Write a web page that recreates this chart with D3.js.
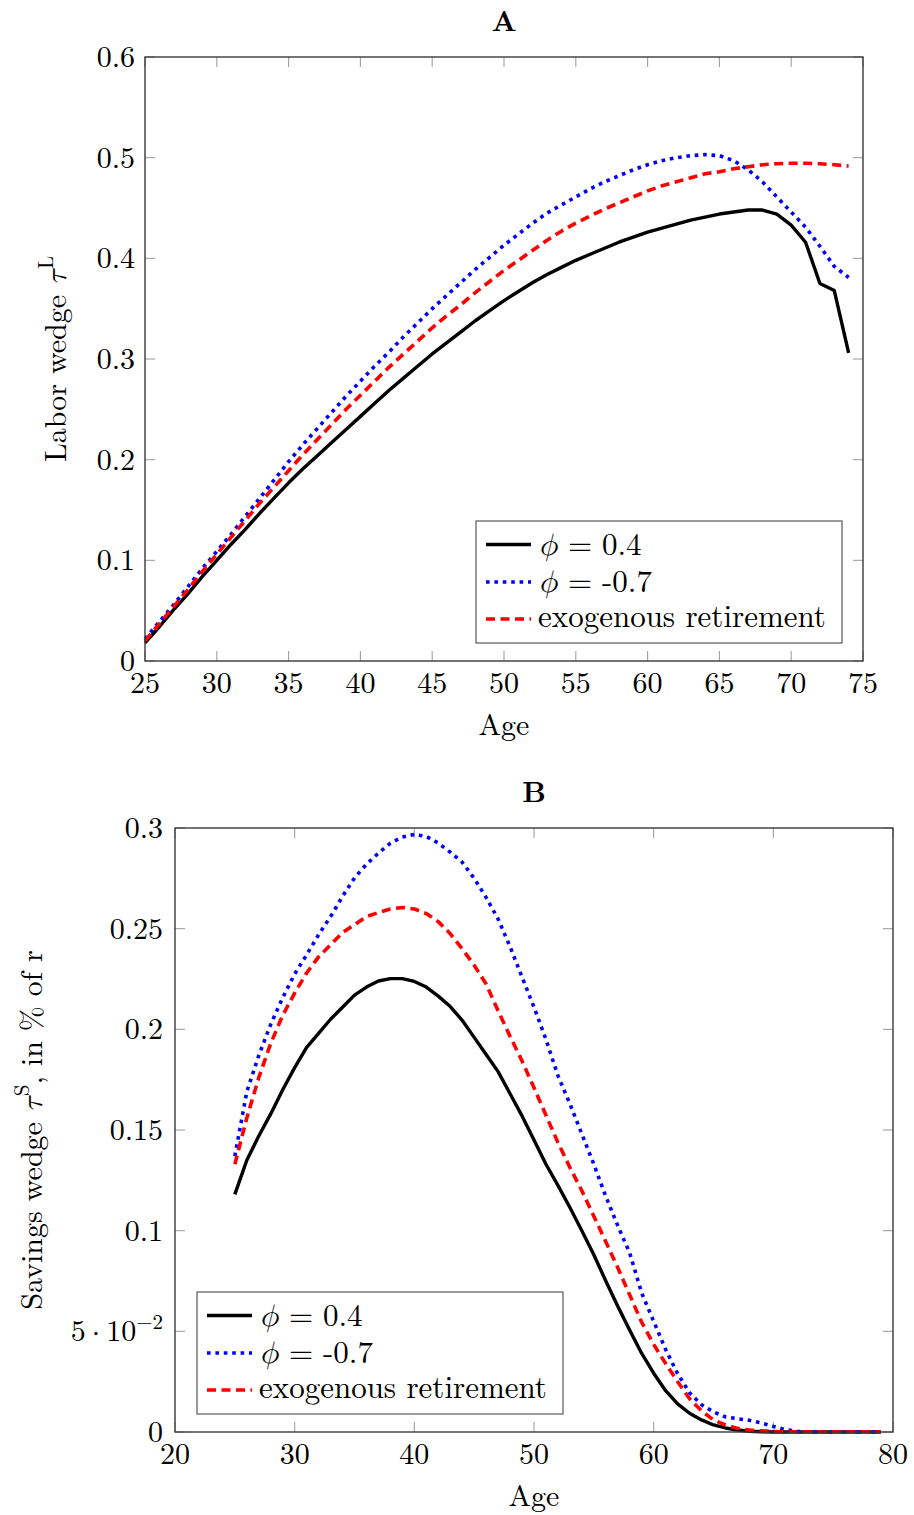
<!DOCTYPE html>
<html>
<head>
<meta charset="utf-8">
<script src="https://cdn.jsdelivr.net/npm/d3@7"></script>
<style>
  html, body { margin: 0; padding: 0; background: #fff; }
  svg { display: block; }
</style>
</head>
<body>
<svg id="chart" width="914" height="1515"></svg>
<script>
// ---------------- DATA: Panel A (labor wedge) ----------------
const agesA = [25,26,27,28,29,30,31,32,33,34,35,36,37,38,39,40,41,42,43,44,45,46,47,48,49,
               50,51,52,53,54,55,56,57,58,59,60,61,62,63,64,65,66,67,68,69,70,71,72,73,74];
const laborPhi04 = [0.018,0.034,0.051,0.067,0.084,0.100,0.116,0.131,0.147,0.162,0.177,0.191,0.204,0.217,0.230,
                    0.243,0.256,0.269,0.281,0.293,0.305,0.316,0.327,0.338,0.348,0.358,0.367,0.376,0.384,0.391,
                    0.398,0.404,0.410,0.416,0.421,0.426,0.430,0.434,0.438,0.441,0.444,0.446,0.448,0.448,0.444,
                    0.433,0.416,0.375,0.368,0.306];
const laborPhiM07 = [0.022,0.039,0.056,0.074,0.092,0.109,0.126,0.144,0.162,0.180,0.198,0.215,0.231,0.247,0.263,
                     0.278,0.293,0.307,0.322,0.336,0.350,0.363,0.376,0.389,0.401,0.413,0.424,0.435,0.445,0.453,
                     0.461,0.469,0.476,0.482,0.488,0.493,0.497,0.500,0.502,0.503,0.502,0.497,0.488,0.476,0.461,
                     0.446,0.431,0.412,0.392,0.381];
const laborExo = [0.020,0.037,0.054,0.071,0.089,0.106,0.123,0.140,0.157,0.173,0.189,0.205,0.220,0.235,0.250,
                  0.264,0.278,0.292,0.305,0.318,0.331,0.343,0.354,0.366,0.377,0.388,0.398,0.408,0.418,0.427,
                  0.435,0.442,0.449,0.455,0.461,0.467,0.472,0.476,0.480,0.484,0.486,0.489,0.491,0.493,0.494,
                  0.4945,0.4945,0.494,0.493,0.4917];
const xTicksA = [25,30,35,40,45,50,55,60,65,70,75];
const yTicksA = [0,0.1,0.2,0.3,0.4,0.5,0.6];
const yTickLabelsA = ["0","0.1","0.2","0.3","0.4","0.5","0.6"];

// ---------------- DATA: Panel B (savings wedge) ----------------
const agesB = [25,26,27,28,29,30,31,32,33,34,35,36,37,38,39,40,41,42,43,44,45,46,47,48,49,
               50,51,52,53,54,55,56,57,58,59,60,61,62,63,64,65,66,67,68,69,70,71,72,73,74,
               75,76,77,78,79];
const savPhi04 = [0.118,0.135,0.147,0.158,0.170,0.181,0.191,0.198,0.205,0.211,0.217,0.221,0.224,0.2252,0.2252,
                  0.2238,0.2210,0.2165,0.2113,0.2045,0.1960,0.1875,0.1790,0.1680,0.1570,0.1450,0.1330,0.1225,0.1115,0.1000,
                  0.0880,0.0750,0.0625,0.0505,0.0390,0.0292,0.0205,0.0140,0.0093,0.0060,0.0035,0.0020,0.0010,0.0004,0.0001,
                  0,0,0,0,0,0,0,0,0,0];
const savPhiM07 = [0.137,0.169,0.187,0.2025,0.2157,0.2275,0.237,0.247,0.256,0.266,0.2752,0.282,0.2875,0.2925,0.2955,
                   0.2968,0.2958,0.2925,0.2880,0.2830,0.2750,0.2655,0.2548,0.2410,0.2260,0.2110,0.1950,0.1770,0.1630,0.1480,
                   0.1330,0.1170,0.1025,0.0888,0.0690,0.0550,0.0410,0.0290,0.0195,0.0135,0.0100,0.0075,0.0066,0.0058,0.0045,
                   0.0028,0.0012,0.0003,0,0,0,0,0,0,0];
const savExo = [0.133,0.156,0.176,0.193,0.207,0.218,0.228,0.236,0.242,0.248,0.252,0.256,0.258,0.2598,0.2605,
                0.2598,0.2575,0.2535,0.2475,0.2400,0.2318,0.2225,0.2092,0.1965,0.1843,0.1710,0.1573,0.1438,0.1314,0.1198,
                0.1072,0.0945,0.0816,0.0680,0.0545,0.0435,0.0340,0.0250,0.0165,0.0105,0.0060,0.0035,0.0018,0.0010,0.0006,
                0.0003,0,0,0,0,0,0,0,0,0];
const xTicksB = [20,30,40,50,60,70,80];
const yTicksB = [0,0.05,0.1,0.15,0.2,0.25,0.3];
const yTickLabelsB = ["0","5e-2","0.1","0.15","0.2","0.25","0.3"];

const legendLabels = ["0.4", "-0.7", "exogenous retirement"];

// ---------------- STYLES ----------------
const FONT = '"Latin Modern Roman", "Liberation Serif", serif';
const GREEK = '"Latin Modern Math", "STIX Two Math", "STIX Two Text", "Liberation Serif", serif';
const seriesStyles = [
  { color: "#000000", dash: null,      width: 3.4 },
  { color: "#0000ff", dash: "3.6,4.8", width: 3.6 },
  { color: "#ff0000", dash: "9,5.5",   width: 3.6 }
];

const svg = d3.select("#chart").style("font-family", FONT);

function drawPanel(cfg) {
  const { left, right, top, bottom, xDomain, yDomain, ages, series, xTicks, yTicks, yTickLabels,
          title, yLabelParts, yLabelX, yTickGap, legendPos } = cfg;
  const g = svg.append("g").style("font-family", FONT);
  const x = d3.scaleLinear().domain(xDomain).range([left, right]);
  const y = d3.scaleLinear().domain(yDomain).range([bottom, top]);
  const tickLen = 10;

  // title
  g.append("text").attr("x", (left + right) / 2).attr("y", top - 26)
    .attr("text-anchor", "middle").attr("font-weight", "bold").attr("font-size", 29)
    .style("font-family", FONT).text(title);

  // ticks (inward, all four sides)
  const tickG = g.append("g").attr("stroke", "#a0a0a0").attr("stroke-width", 1.1);
  xTicks.forEach(t => {
    tickG.append("line").attr("x1", x(t)).attr("x2", x(t)).attr("y1", bottom).attr("y2", bottom - tickLen);
    tickG.append("line").attr("x1", x(t)).attr("x2", x(t)).attr("y1", top).attr("y2", top + tickLen);
  });
  yTicks.forEach(t => {
    tickG.append("line").attr("x1", left).attr("x2", left + tickLen).attr("y1", y(t)).attr("y2", y(t));
    tickG.append("line").attr("x1", right).attr("x2", right - tickLen).attr("y1", y(t)).attr("y2", y(t));
  });

  // tick labels
  xTicks.forEach(t => {
    g.append("text").attr("x", x(t)).attr("y", bottom + 32).attr("text-anchor", "middle")
      .attr("font-size", 30).style("font-family", FONT).text(String(t));
  });
  yTicks.forEach((t, i) => {
    const lab = yTickLabels[i];
    const tx = g.append("text").attr("x", left - yTickGap).attr("y", y(t) + 10)
      .attr("text-anchor", "end").attr("font-size", 30).style("font-family", FONT);
    if (lab === "5e-2") {
      tx.append("tspan").text("5");
      tx.append("tspan").attr("dx", 6).style("font-family", GREEK).text("\u22C5");
      tx.append("tspan").attr("dx", 6).text("10");
      tx.append("tspan").attr("font-size", 21).attr("dy", -12).text("\u22122");
    } else {
      tx.text(lab);
    }
  });

  // axis labels
  g.append("text").attr("x", (left + right) / 2).attr("y", bottom + 74)
    .attr("text-anchor", "middle").attr("font-size", 30).style("font-family", FONT).text("Age");

  const yl = g.append("text")
    .attr("transform", `translate(${yLabelX},${(top + bottom) / 2}) rotate(-90)`)
    .attr("text-anchor", "middle").attr("font-size", 30).style("font-family", FONT);
  yl.append("tspan").text(yLabelParts[0]);
  yl.append("tspan").attr("font-style", "italic").style("font-family", GREEK).text("\u03C4");
  yl.append("tspan").attr("font-size", 21).attr("dy", -13).text(yLabelParts[1]);
  if (yLabelParts[2]) yl.append("tspan").attr("dy", 13).text(yLabelParts[2]);

  // series lines
  const line = d3.line().x(d => x(d[0])).y(d => y(d[1]));
  series.forEach((vals, i) => {
    const st = seriesStyles[i];
    g.append("path")
      .datum(ages.map((a, j) => [a, vals[j]]))
      .attr("d", line)
      .attr("fill", "none")
      .attr("stroke", st.color)
      .attr("stroke-width", st.width)
      .attr("stroke-linejoin", "round")
      .attr("stroke-dasharray", st.dash);
  });

  // frame
  g.append("rect").attr("x", left).attr("y", top).attr("width", right - left).attr("height", bottom - top)
    .attr("fill", "none").attr("stroke", "#3a3a3a").attr("stroke-width", 1.4);

  // legend
  const lw = 366, lh = 122;
  const lg = g.append("g").attr("transform", `translate(${legendPos[0]},${legendPos[1]})`);
  lg.append("rect").attr("width", lw).attr("height", lh).attr("fill", "#fff")
    .attr("stroke", "#666").attr("stroke-width", 1.3);
  const rowsLineY = [23.5, 61, 98];
  const rowsTextY = [34, 71, 106];
  legendLabels.forEach((lab, i) => {
    const st = seriesStyles[i];
    lg.append("line").attr("x1", 10).attr("x2", 55).attr("y1", rowsLineY[i]).attr("y2", rowsLineY[i])
      .attr("stroke", st.color).attr("stroke-width", st.width).attr("stroke-dasharray", st.dash);
    const t = lg.append("text").attr("x", 62).attr("y", rowsTextY[i]).attr("font-size", 31)
      .style("font-family", FONT);
    if (i < 2) {
      t.append("tspan").attr("font-style", "italic").style("font-family", GREEK).text("\u03D5");
      t.append("tspan").attr("dx", 10).text("=");
      t.append("tspan").attr("dx", 10).text(lab);
    } else {
      t.text(lab);
    }
  });
}

drawPanel({
  left: 145, right: 863, top: 57, bottom: 661,
  xDomain: [25, 75], yDomain: [0, 0.6],
  ages: agesA, series: [laborPhi04, laborPhiM07, laborExo],
  xTicks: xTicksA, yTicks: yTicksA, yTickLabels: yTickLabelsA,
  title: "A", yLabelParts: ["Labor wedge ", "L"], yLabelX: 66, yTickGap: 10,
  legendPos: [476, 521]
});

drawPanel({
  left: 175, right: 893, top: 828, bottom: 1432,
  xDomain: [20, 80], yDomain: [0, 0.3],
  ages: agesB, series: [savPhi04, savPhiM07, savExo],
  xTicks: xTicksB, yTicks: yTicksB, yTickLabels: yTickLabelsB,
  title: "B", yLabelParts: ["Savings wedge ", "S", ", in % of r"], yLabelX: 42, yTickGap: 12,
  legendPos: [197, 1292]
});
</script>
</body>
</html>
